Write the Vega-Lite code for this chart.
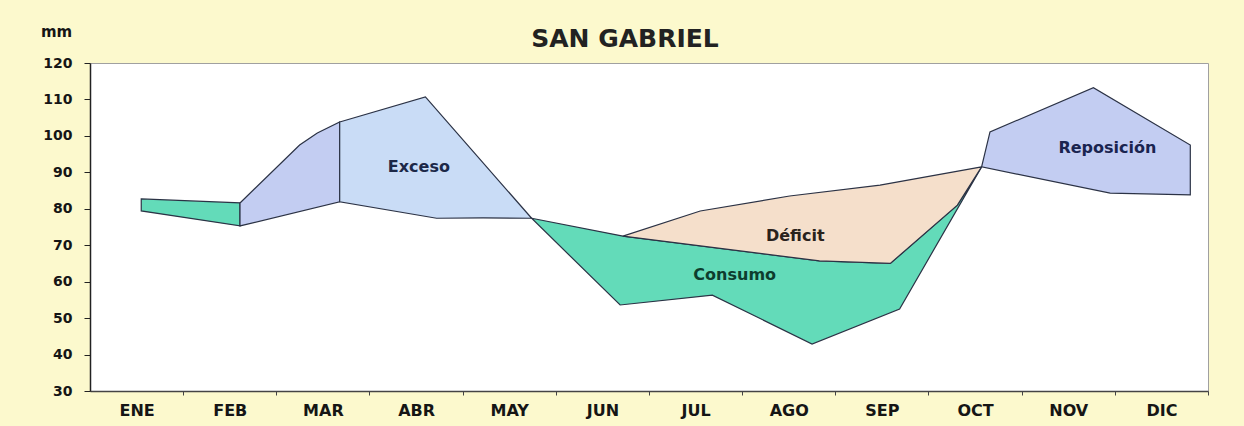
{
  "$schema": "https://vega.github.io/schema/vega-lite/v6.json",
  "width": 1118,
  "height": 328,
  "autosize": {"type": "none"},
  "padding": {"left": 90, "top": 63, "right": 36, "bottom": 35},
  "background": "#fcf9cd",
  "config": {
    "view": {"fill": "#ffffff", "stroke": "#a0a0a0", "strokeWidth": 1},
    "font": "DejaVu Sans"
  },
  "title": {
    "text": "SAN GABRIEL",
    "font": "DejaVu Sans",
    "fontSize": 25,
    "fontWeight": "bold",
    "color": "#222222",
    "anchor": "middle",
    "dx": -24,
    "dy": 39,
    "offset": 11
  },
  "datasets": {
    "poly": [
      {"reg": "A", "k": 0, "mes": 1.05, "mm": 82.7},
      {"reg": "A", "k": 1, "mes": 2.11, "mm": 81.6},
      {"reg": "A", "k": 2, "mes": 2.11, "mm": 75.3},
      {"reg": "A", "k": 3, "mes": 1.05, "mm": 79.4},
      {"reg": "B", "k": 0, "mes": 2.11, "mm": 81.6},
      {"reg": "B", "k": 1, "mes": 2.75, "mm": 97.5},
      {"reg": "B", "k": 2, "mes": 2.94, "mm": 100.8},
      {"reg": "B", "k": 3, "mes": 3.18, "mm": 103.8},
      {"reg": "B", "k": 4, "mes": 3.18, "mm": 81.9},
      {"reg": "B", "k": 5, "mes": 2.11, "mm": 75.3},
      {"reg": "C", "k": 0, "mes": 3.18, "mm": 103.8},
      {"reg": "C", "k": 1, "mes": 4.1, "mm": 110.7},
      {"reg": "C", "k": 2, "mes": 5.24, "mm": 77.4},
      {"reg": "C", "k": 3, "mes": 4.72, "mm": 77.5},
      {"reg": "C", "k": 4, "mes": 4.22, "mm": 77.4},
      {"reg": "C", "k": 5, "mes": 3.18, "mm": 81.9},
      {"reg": "D", "k": 0, "mes": 5.24, "mm": 77.4},
      {"reg": "D", "k": 1, "mes": 6.22, "mm": 72.5},
      {"reg": "D", "k": 2, "mes": 8.33, "mm": 65.7},
      {"reg": "D", "k": 3, "mes": 9.09, "mm": 65.0},
      {"reg": "D", "k": 4, "mes": 9.81, "mm": 81.0},
      {"reg": "D", "k": 5, "mes": 10.07, "mm": 91.5},
      {"reg": "D", "k": 6, "mes": 9.19, "mm": 52.5},
      {"reg": "D", "k": 7, "mes": 8.25, "mm": 42.9},
      {"reg": "D", "k": 8, "mes": 7.18, "mm": 56.3},
      {"reg": "D", "k": 9, "mes": 6.19, "mm": 53.6},
      {"reg": "E", "k": 0, "mes": 6.22, "mm": 72.5},
      {"reg": "E", "k": 1, "mes": 7.05, "mm": 79.4},
      {"reg": "E", "k": 2, "mes": 8.01, "mm": 83.5},
      {"reg": "E", "k": 3, "mes": 8.98, "mm": 86.5},
      {"reg": "E", "k": 4, "mes": 10.07, "mm": 91.5},
      {"reg": "E", "k": 5, "mes": 9.81, "mm": 81.0},
      {"reg": "E", "k": 6, "mes": 9.09, "mm": 65.0},
      {"reg": "E", "k": 7, "mes": 8.33, "mm": 65.7},
      {"reg": "F", "k": 0, "mes": 10.07, "mm": 91.5},
      {"reg": "F", "k": 1, "mes": 10.16, "mm": 101.1},
      {"reg": "F", "k": 2, "mes": 11.27, "mm": 113.2},
      {"reg": "F", "k": 3, "mes": 12.31, "mm": 97.5},
      {"reg": "F", "k": 4, "mes": 12.31, "mm": 83.8},
      {"reg": "F", "k": 5, "mes": 11.45, "mm": 84.3}
    ],
    "labels": [
      {"texto": "Exceso", "mes": 4.03, "mm": 91.5, "col": "#1c2848"},
      {"texto": "Déficit", "mes": 8.07, "mm": 72.5, "col": "#2a221c"},
      {"texto": "Consumo", "mes": 7.42, "mm": 61.8, "col": "#0d3d2e"},
      {"texto": "Reposición", "mes": 11.42, "mm": 96.7, "col": "#1a2450"}
    ]
  },
  "encoding": {
    "x": {
      "field": "mes",
      "type": "quantitative",
      "scale": {"domain": [0.5, 12.5], "nice": false, "zero": false},
      "axis": {
        "values": [1, 2, 3, 4, 5, 6, 7, 8, 9, 10, 11, 12],
        "labelExpr": "['ENE','FEB','MAR','ABR','MAY','JUN','JUL','AGO','SEP','OCT','NOV','DIC'][datum.value - 1]",
        "tickOffset": 46.58,
        "labelOffset": -46.58,
        "labelFlush": false,
        "labelOverlap": false,
        "grid": false,
        "title": null,
        "tickSize": 4,
        "tickColor": "#444444",
        "domainColor": "#444444",
        "domainWidth": 1.5,
        "labelPadding": 7,
        "labelFont": "DejaVu Sans",
        "labelFontSize": 16,
        "labelFontWeight": "bold",
        "labelColor": "#151515"
      }
    },
    "y": {
      "field": "mm",
      "type": "quantitative",
      "scale": {"domain": [30, 120], "nice": false, "zero": false},
      "axis": {
        "values": [30, 40, 50, 60, 70, 80, 90, 100, 110, 120],
        "grid": false,
        "tickSize": 6,
        "tickColor": "#222222",
        "domainColor": "#222222",
        "domainWidth": 1.5,
        "labelPadding": 12,
        "labelFont": "DejaVu Sans",
        "labelFontSize": 14,
        "labelFontWeight": "bold",
        "labelColor": "#151515",
        "title": "mm",
        "titleAngle": 0,
        "titleX": -34,
        "titleY": -32,
        "titleAlign": "center",
        "titleBaseline": "middle",
        "titleFont": "DejaVu Sans",
        "titleFontSize": 15,
        "titleFontWeight": "bold",
        "titleColor": "#151515"
      }
    }
  },
  "layer": [
    {
      "data": {"name": "poly"},
      "transform": [{"filter": "datum.reg === 'A'"}],
      "mark": {"type": "line", "interpolate": "linear-closed", "fill": "#63dbb9", "stroke": "#2b3245", "strokeWidth": 1.2},
      "encoding": {"order": {"field": "k", "type": "quantitative"}}
    },
    {
      "data": {"name": "poly"},
      "transform": [{"filter": "datum.reg === 'B'"}],
      "mark": {"type": "line", "interpolate": "linear-closed", "fill": "#c3cdf2", "stroke": "#2b3245", "strokeWidth": 1.2},
      "encoding": {"order": {"field": "k", "type": "quantitative"}}
    },
    {
      "data": {"name": "poly"},
      "transform": [{"filter": "datum.reg === 'C'"}],
      "mark": {"type": "line", "interpolate": "linear-closed", "fill": "#c9dcf6", "stroke": "#2b3245", "strokeWidth": 1.2},
      "encoding": {"order": {"field": "k", "type": "quantitative"}}
    },
    {
      "data": {"name": "poly"},
      "transform": [{"filter": "datum.reg === 'D'"}],
      "mark": {"type": "line", "interpolate": "linear-closed", "fill": "#63dbb9", "stroke": "#2b3245", "strokeWidth": 1.2},
      "encoding": {"order": {"field": "k", "type": "quantitative"}}
    },
    {
      "data": {"name": "poly"},
      "transform": [{"filter": "datum.reg === 'E'"}],
      "mark": {"type": "line", "interpolate": "linear-closed", "fill": "#f5dfcb", "stroke": "#2b3245", "strokeWidth": 1.2},
      "encoding": {"order": {"field": "k", "type": "quantitative"}}
    },
    {
      "data": {"name": "poly"},
      "transform": [{"filter": "datum.reg === 'F'"}],
      "mark": {"type": "line", "interpolate": "linear-closed", "fill": "#c3cdf2", "stroke": "#2b3245", "strokeWidth": 1.2},
      "encoding": {"order": {"field": "k", "type": "quantitative"}}
    },
    {
      "data": {"name": "labels"},
      "mark": {"type": "text", "font": "DejaVu Sans", "fontSize": 16, "fontWeight": "bold", "align": "center", "baseline": "middle"},
      "encoding": {
        "text": {"field": "texto", "type": "nominal"},
        "color": {"field": "col", "type": "nominal", "scale": null}
      }
    }
  ]
}
